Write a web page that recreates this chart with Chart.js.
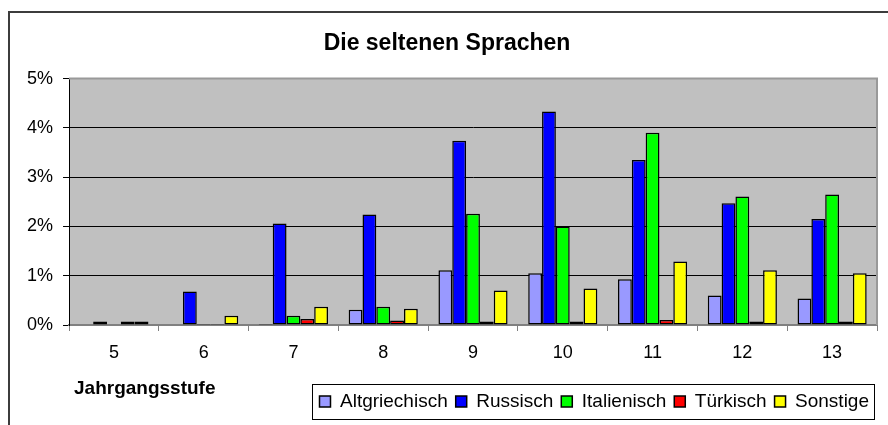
<!DOCTYPE html>
<html>
<head>
<meta charset="utf-8">
<title>Die seltenen Sprachen</title>
<script src="https://cdn.jsdelivr.net/npm/chart.js@4.4.0/dist/chart.umd.min.js"></script>
<style>
    html, body { margin: 0; padding: 0; background: #fff; overflow: hidden; }
    #frame {
        position: absolute; left: 8px; top: 11px; width: 1000px; height: 1000px;
        border-left: 2px solid #3c3c3c; border-top: 2px solid #3c3c3c;
    }
    #languageChart { position: absolute; left: 0; top: 0; }
</style>
</head>
<body>
<div id="frame"></div>
<canvas id="languageChart" width="888" height="425"></canvas>
<script>
// Data (percent of pupils per grade)
const categories = ['5', '6', '7', '8', '9', '10', '11', '12', '13'];
const altgriechisch = [0, 0, 0.02, 0.31, 1.11, 1.05, 0.93, 0.60, 0.54];
const russisch = [0.07, 0.68, 2.06, 2.24, 3.74, 4.33, 3.35, 2.47, 2.15];
const italienisch = [0, 0.02, 0.19, 0.37, 2.26, 2.00, 3.90, 2.61, 2.65];
const tuerkisch = [0.07, 0.02, 0.12, 0.09, 0.07, 0.07, 0.10, 0.07, 0.07];
const sonstige = [0.07, 0.19, 0.37, 0.33, 0.70, 0.74, 1.29, 1.11, 1.05];
const yMin = 0;
const yMax = 5;
const yStep = 1;

const chartTitle = 'Die seltenen Sprachen';
const xAxisTitle = 'Jahrgangsstufe';

// Grey plot area + its light border
const plotArea = {
    id: 'plotArea',
    beforeDraw(chart) {
        const { ctx, chartArea: a } = chart;
        ctx.save();
        ctx.fillStyle = '#c0c0c0';
        ctx.fillRect(a.left, a.top, a.right - a.left, a.bottom - a.top);
        ctx.restore();
    },
    beforeDatasetsDraw(chart) {
        const { ctx, chartArea: a } = chart;
        ctx.save();
        ctx.strokeStyle = '#999';
        ctx.lineWidth = 2;
        ctx.beginPath();
        ctx.moveTo(a.left, a.top);
        ctx.lineTo(a.right, a.top);
        ctx.lineTo(a.right, a.bottom);
        ctx.stroke();
        ctx.restore();
    }
};

// Legend frame and the left-aligned axis title
const extras = {
    id: 'extras',
    afterDraw(chart) {
        const { ctx, chartArea: a } = chart;
        const boxes = chart.legend.legendHitBoxes;
        if (boxes && boxes.length) {
            const first = boxes[0];
            const last = boxes[boxes.length - 1];
            const left = first.left - 7;
            const right = last.left + last.width + 5;
            const top = first.top - 8;
            const bottom = first.top + first.height + 8;
            ctx.save();
            ctx.strokeStyle = '#000';
            ctx.lineWidth = 1;
            ctx.strokeRect(Math.round(left) + 0.5, Math.round(top) + 0.5, Math.round(right - left), Math.round(bottom - top));
            ctx.restore();
        }
        ctx.save();
        ctx.font = 'bold 19px "Liberation Sans", Arial, sans-serif';
        ctx.fillStyle = '#000';
        ctx.textAlign = 'left';
        ctx.textBaseline = 'middle';
        ctx.fillText(xAxisTitle, a.left + 5, a.bottom + 64);
        ctx.restore();
    }
};

Chart.defaults.font.family = '"Liberation Sans", Arial, sans-serif';
Chart.defaults.color = '#000';

const ctx = document.getElementById('languageChart').getContext('2d');

function makeSet(label, data, color) {
    return {
        label: label,
        data: data,
        backgroundColor: color,
        borderColor: '#000',
        borderWidth: 1.5,
        borderSkipped: false,
        barPercentage: 1,
        categoryPercentage: 0.77
    };
}

const languageChart = new Chart(ctx, {
    type: 'bar',
    data: {
        labels: categories,
        datasets: [
            makeSet('Altgriechisch', altgriechisch, '#9999ff'),
            makeSet('Russisch', russisch, '#0000ff'),
            makeSet('Italienisch', italienisch, '#00ff00'),
            makeSet('Türkisch', tuerkisch, '#ff0000'),
            makeSet('Sonstige', sonstige, '#ffff00')
        ]
    },
    options: {
        responsive: false,
        animation: false,
        layout: {
            padding: { top: 0, left: 17, right: 11, bottom: 4 }
        },
        plugins: {
            title: {
                display: true,
                text: chartTitle,
                font: { size: 23, weight: 'bold' },
                padding: { top: 30, bottom: 21 }
            },
            legend: {
                position: 'bottom',
                align: 'end',
                labels: {
                    font: { size: 19 },
                    boxWidth: 11,
                    boxHeight: 11,
                    padding: 8
                }
            },
            tooltip: { enabled: false }
        },
        scales: {
            x: {
                grid: {
                    drawOnChartArea: false,
                    tickLength: 6,
                    color: '#808080'
                },
                border: { color: '#808080', width: 2 },
                ticks: {
                    font: { size: 18 },
                    padding: 11
                },
                afterFit: function(scale) {
                    scale.height = 59;
                }
            },
            y: {
                min: yMin,
                max: yMax,
                ticks: {
                    stepSize: yStep,
                    font: { size: 18 },
                    padding: 10,
                    callback: function(value) {
                        return value + '%';
                    }
                },
                grid: {
                    tickLength: 6,
                    tickColor: '#000',
                    color: function(c) {
                        if (c.tick.value === yMax) return '#999';
                        if (c.tick.value === yMin) return '#808080';
                        return '#000';
                    }
                },
                border: { color: '#000', width: 1 }
            }
        }
    },
    plugins: [plotArea, extras]
});
</script>
</body>
</html>
